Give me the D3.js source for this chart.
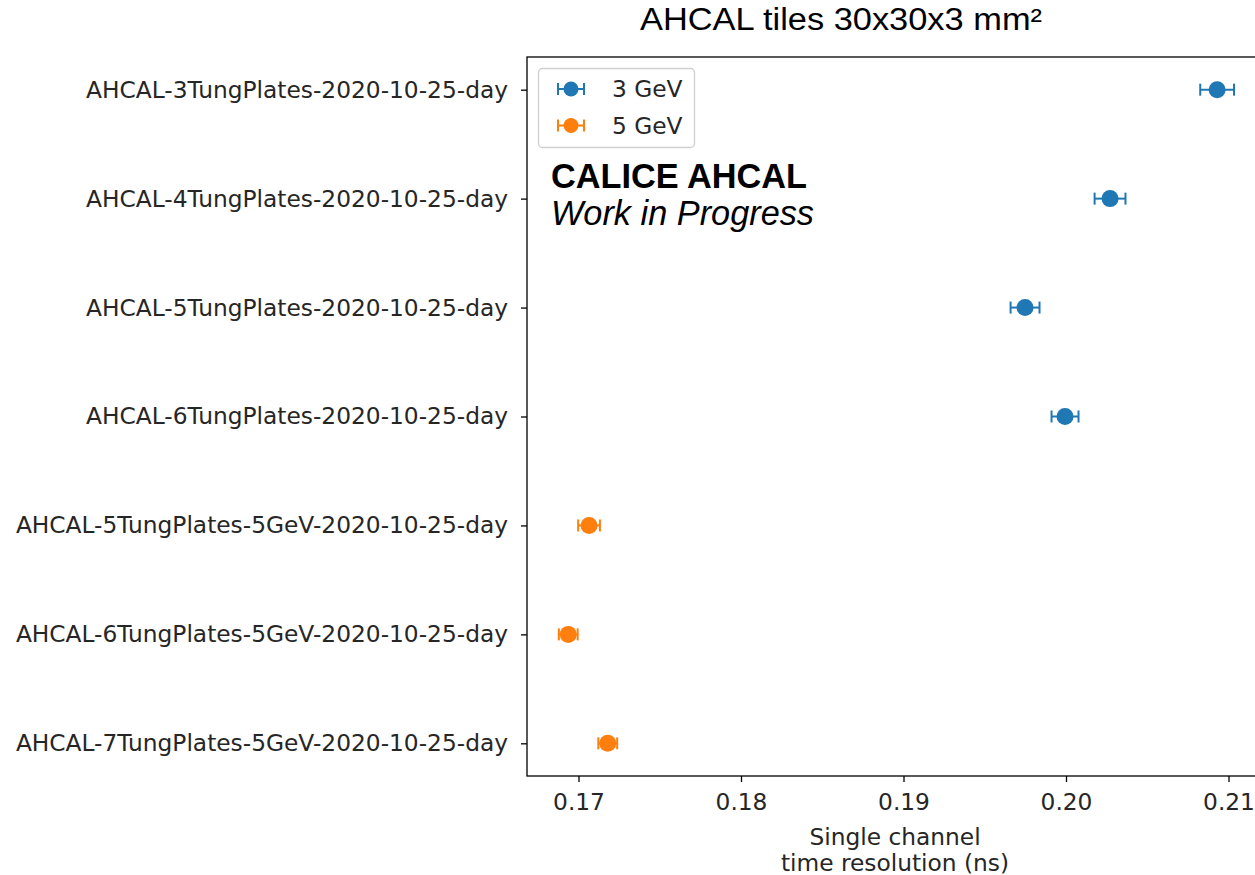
<!DOCTYPE html>
<html>
<head>
<meta charset="utf-8">
<script src="https://cdn.jsdelivr.net/npm/d3@7"></script>
<style>
  html, body { margin: 0; padding: 0; background: #fff; }
  svg { display: block; }
</style>
</head>
<body>
<script>
// ---- data ----
const categories = [
  "AHCAL-3TungPlates-2020-10-25-day",
  "AHCAL-4TungPlates-2020-10-25-day",
  "AHCAL-5TungPlates-2020-10-25-day",
  "AHCAL-6TungPlates-2020-10-25-day",
  "AHCAL-5TungPlates-5GeV-2020-10-25-day",
  "AHCAL-6TungPlates-5GeV-2020-10-25-day",
  "AHCAL-7TungPlates-5GeV-2020-10-25-day"
];
const cat3GeV = categories.slice(0, 4);
const val3GeV = [0.2093, 0.20271, 0.19748, 0.19994];
const err3GeV = [0.00104, 0.00095, 0.00089, 0.00083];
const cat5GeV = categories.slice(4);
const val5GeV = [0.17065, 0.16937, 0.17180];
const err5GeV = [0.00067, 0.00058, 0.00058];
const xTicks = [0.17, 0.18, 0.19, 0.20, 0.21];
const seriesNames = ["3 GeV", "5 GeV"];
const colors = ["#1f77b4", "#ff7f0e"];

// ---- layout ----
const W = 1255, H = 875;
const axL = 527, axT = 57, axB = 776, axR = 1271;
const tickFont = "'DejaVu Sans', sans-serif";
const fs = 23.3;

const svg = d3.select("body").append("svg").attr("width", W).attr("height", H);
svg.append("rect").attr("width", W).attr("height", H).attr("fill", "#fff");

const x = d3.scaleLinear().domain([0.166831, 0.212615]).range([axL, axR]);
const y = d3.scalePoint().domain(categories).range([axT, axB]).padding(0.3);

// frame
svg.append("rect").attr("x", axL).attr("y", axT).attr("width", axR - axL).attr("height", axB - axT)
  .attr("fill", "none").attr("stroke", "#000").attr("stroke-width", 1.3);

// x axis
const xAxis = svg.append("g").attr("transform", `translate(0,${axB})`)
  .call(d3.axisBottom(x).tickValues(xTicks).tickFormat(d3.format(".2f")).tickSizeOuter(0).tickSize(6).tickPadding(11));
xAxis.select(".domain").remove();
xAxis.selectAll("line").attr("stroke", "#000").attr("stroke-width", 1.3);
xAxis.selectAll("text").attr("font-family", tickFont).attr("font-size", fs).attr("fill", "#262626");

// y axis
const yAxis = svg.append("g").attr("transform", `translate(${axL},0)`)
  .call(d3.axisLeft(y).tickSizeOuter(0).tickSize(6).tickPadding(13));
yAxis.select(".domain").remove();
yAxis.selectAll("line").attr("stroke", "#000").attr("stroke-width", 1.3);
yAxis.selectAll("text").attr("font-family", tickFont).attr("font-size", fs).attr("fill", "#262626");

// x label
const xl = svg.append("text").attr("text-anchor", "middle")
  .attr("font-family", tickFont).attr("font-size", fs).attr("fill", "#262626");
xl.append("tspan").attr("x", 895).attr("y", 845).text("Single channel");
xl.append("tspan").attr("x", 895).attr("y", 871).text("time resolution (ns)");

// title
svg.append("text").attr("x", 841).attr("y", 30).attr("text-anchor", "middle")
  .attr("font-family", "'Liberation Sans', Arial, sans-serif").attr("font-size", 31).attr("fill", "#000")
  .attr("textLength", 402).attr("lengthAdjust", "spacingAndGlyphs")
  .text("AHCAL tiles 30x30x3 mm²");

// error bar drawing
function drawSeries(cats, vals, errs, color) {
  const g = svg.append("g");
  const data = cats.map((c, i) => ({ c, v: vals[i], e: errs[i] }));
  const cap = 6;
  g.selectAll(".eb").data(data).join("line")
    .attr("x1", d => x(d.v - d.e)).attr("x2", d => x(d.v + d.e))
    .attr("y1", d => y(d.c)).attr("y2", d => y(d.c))
    .attr("stroke", color).attr("stroke-width", 2);
  g.selectAll(".capl").data(data).join("line")
    .attr("x1", d => x(d.v - d.e)).attr("x2", d => x(d.v - d.e))
    .attr("y1", d => y(d.c) - cap).attr("y2", d => y(d.c) + cap)
    .attr("stroke", color).attr("stroke-width", 2);
  g.selectAll(".capr").data(data).join("line")
    .attr("x1", d => x(d.v + d.e)).attr("x2", d => x(d.v + d.e))
    .attr("y1", d => y(d.c) - cap).attr("y2", d => y(d.c) + cap)
    .attr("stroke", color).attr("stroke-width", 2);
  g.selectAll("circle").data(data).join("circle")
    .attr("cx", d => x(d.v)).attr("cy", d => y(d.c)).attr("r", 8.5).attr("fill", color);
}
drawSeries(cat3GeV, val3GeV, err3GeV, colors[0]);
drawSeries(cat5GeV, val5GeV, err5GeV, colors[1]);

// legend
const lg = svg.append("g");
lg.append("rect").attr("x", 538.5).attr("y", 68.5).attr("width", 156).attr("height", 79).attr("rx", 4)
  .attr("fill", "#fff").attr("fill-opacity", 0.8).attr("stroke", "#d0d0d0").attr("stroke-width", 1.3);
seriesNames.forEach((name, i) => {
  const cy = 89 + i * 36.5;
  lg.append("line").attr("x1", 558).attr("x2", 584).attr("y1", cy).attr("y2", cy).attr("stroke", colors[i]).attr("stroke-width", 2);
  lg.append("line").attr("x1", 558).attr("x2", 558).attr("y1", cy - 6).attr("y2", cy + 6).attr("stroke", colors[i]).attr("stroke-width", 2);
  lg.append("line").attr("x1", 584).attr("x2", 584).attr("y1", cy - 6).attr("y2", cy + 6).attr("stroke", colors[i]).attr("stroke-width", 2);
  lg.append("circle").attr("cx", 571).attr("cy", cy).attr("r", 7.5).attr("fill", colors[i]);
  lg.append("text").attr("x", 612).attr("y", cy).attr("dy", "0.35em")
    .attr("font-family", tickFont).attr("font-size", fs).attr("fill", "#262626").text(name);
});

// annotation
svg.append("text").attr("x", 551).attr("y", 188)
  .attr("font-family", "'Liberation Sans', Arial, sans-serif").attr("font-size", 34.3).attr("font-weight", "bold")
  .attr("fill", "#000").text("CALICE AHCAL");
svg.append("text").attr("x", 551).attr("y", 225)
  .attr("font-family", "'Liberation Sans', Arial, sans-serif").attr("font-size", 34.3).attr("font-style", "italic")
  .attr("fill", "#000").text("Work in Progress");
</script>
</body>
</html>
